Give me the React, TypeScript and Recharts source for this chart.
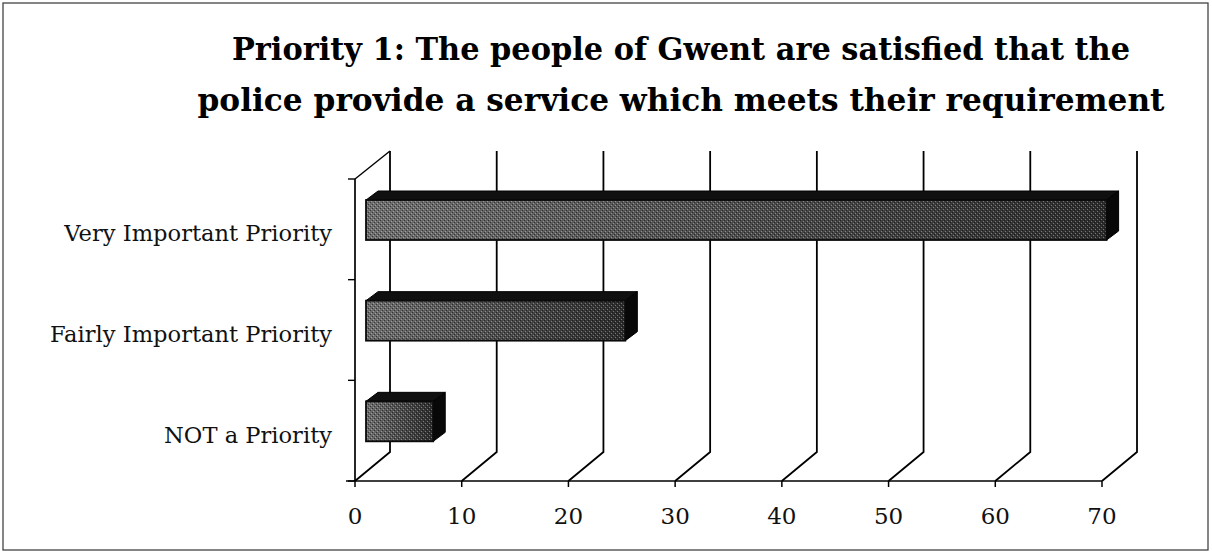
import React from "react";
import { BarChart, Bar, XAxis, YAxis, CartesianGrid } from "recharts";

const titleLines = [
  "Priority 1: The people of Gwent are satisfied that the",
  "police provide a service which meets their requirement",
];
const categories = ["Very Important Priority", "Fairly Important Priority", "NOT a Priority"];
const values = [69.4, 24.3, 6.3];
const xTicks = [0, 10, 20, 30, 40, 50, 60, 70];

const data = categories.map((name, i) => ({ name, value: values[i] }));

const W = 1212;
const H = 554;
const MARGIN = { top: 179, right: 110, bottom: 33, left: 15 };
const Y_AXIS_W = 340;
const X_AXIS_H = 40;
const PLOT_H = H - MARGIN.top - MARGIN.bottom - X_AXIS_H;
const BAND_HALF = PLOT_H / categories.length / 2;
const DEPTH_X = 35;
const DEPTH_Y = 29;
const BAR_OX = 11;
const BAR_OY = 9;
const BAR_DX = 12;
const BAR_DY = 9;
const SERIF = "'DejaVu Serif', serif";

const Bar3D = (p: any) => {
  const { x, y, width, height } = p;
  if (!(width > 0)) return null;
  const fx = x + BAR_OX;
  const fy = y - BAR_OY;
  const w = width;
  const h = height;
  const top = `${fx},${fy} ${fx + BAR_DX},${fy - BAR_DY} ${fx + w + BAR_DX},${fy - BAR_DY} ${fx + w},${fy}`;
  const right = `${fx + w},${fy} ${fx + w + BAR_DX},${fy - BAR_DY} ${fx + w + BAR_DX},${fy + h - BAR_DY} ${fx + w},${fy + h}`;
  return (
    <g>
      <polygon points={top} fill="#101010" stroke="#000" strokeWidth={1} />
      <polygon points={right} fill="#080808" stroke="#000" strokeWidth={1} />
      <rect x={fx} y={fy} width={w} height={h} fill="url(#barGrad)" />
      <rect x={fx} y={fy} width={w} height={h} fill="url(#dither)" />
      <rect x={fx} y={fy} width={w} height={h} fill="none" stroke="#0a0a0a" strokeWidth={1.8} />
    </g>
  );
};

const gridLine = (p: any) => {
  const { x1, y1, y2, index } = p;
  const bx = x1 + DEPTH_X;
  const by = y2 - DEPTH_Y;
  const ty = y1 - DEPTH_Y + 1;
  return (
    <g key={`gl-${index}`}>
      <path d={`M${x1},${y2} L${bx},${by} L${bx},${ty}`} fill="none" stroke="#000" strokeWidth={1.8} />
      {index === 0 ? (
        <>
          <line x1={x1} y1={y1} x2={bx} y2={ty} stroke="#000" strokeWidth={1.5} />
          <line x1={x1 - 9} y1={y2} x2={x1} y2={y2} stroke="#000" strokeWidth={1.5} />
        </>
      ) : null}
    </g>
  );
};

const CategoryTick = (p: any) => {
  const { y, payload, index } = p;
  const ax = MARGIN.left + Y_AXIS_W;
  return (
    <g>
      <line x1={ax - 7} y1={y - BAND_HALF} x2={ax} y2={y - BAND_HALF} stroke="#000" strokeWidth={1.4} />
      {index === categories.length - 1 ? (
        <line x1={ax - 7} y1={y + BAND_HALF} x2={ax} y2={y + BAND_HALF} stroke="#000" strokeWidth={1.4} />
      ) : null}
      <text x={332} y={y + 12} textAnchor="end" fontFamily={SERIF} fontSize={22.6} fill="#111">
        {payload.value}
      </text>
    </g>
  );
};

const ValueTick = (p: any) => {
  const { x, payload } = p;
  return (
    <text x={x} y={524} textAnchor="middle" fontFamily={SERIF} fontSize={23} fill="#111">
      {payload.value}
    </text>
  );
};

export default function App() {
  return (
    <div style={{ position: "absolute", left: 0, top: 0, width: W, height: H, background: "#fff" }}>
      <svg width={0} height={0} style={{ position: "absolute" }}>
        <defs>
          <linearGradient id="barGrad" x1="0" y1="0" x2="1" y2="0">
            <stop offset="0%" stopColor="#6e6e6e" />
            <stop offset="100%" stopColor="#2c2c2c" />
          </linearGradient>
          <pattern id="dither" width="4" height="4" patternUnits="userSpaceOnUse">
            <rect x="0" y="0" width="1" height="1" fill="#000" opacity="0.5" />
            <rect x="2" y="2" width="1" height="1" fill="#000" opacity="0.5" />
            <rect x="1" y="3" width="1" height="1" fill="#fff" opacity="0.35" />
            <rect x="3" y="1" width="1" height="1" fill="#fff" opacity="0.35" />
          </pattern>
        </defs>
      </svg>
      <BarChart
        width={W}
        height={H}
        data={data}
        layout="vertical"
        margin={MARGIN}
        barSize={40}
      >
        <CartesianGrid horizontal={false} vertical={gridLine} />
        <XAxis
          type="number"
          domain={[0, 70]}
          ticks={xTicks}
          interval={0}
          height={X_AXIS_H}
          axisLine={{ stroke: "#000", strokeWidth: 1.5 }}
          tickLine={{ stroke: "#000", strokeWidth: 1.5 }}
          tickSize={6}
          tick={<ValueTick />}
        />
        <YAxis
          type="category"
          dataKey="name"
          width={Y_AXIS_W}
          axisLine={{ stroke: "#000", strokeWidth: 1.7 }}
          tickLine={false}
          tick={<CategoryTick />}
          interval={0}
        />
        <Bar dataKey="value" isAnimationActive={false} shape={<Bar3D />} />
      </BarChart>
      <svg
        width={W}
        height={H}
        style={{ position: "absolute", left: 0, top: 0, pointerEvents: "none" }}
      >
        <rect x={3} y={3} width={1205} height={547} fill="none" stroke="#444" strokeWidth={1.3} />
        <text x={681} y={60} textAnchor="middle" fontFamily={SERIF} fontWeight="bold" fontSize={31} fill="#000" textLength={898} lengthAdjust="spacingAndGlyphs">
          {titleLines[0]}
        </text>
        <text x={681} y={111} textAnchor="middle" fontFamily={SERIF} fontWeight="bold" fontSize={31} fill="#000" textLength={967} lengthAdjust="spacingAndGlyphs">
          {titleLines[1]}
        </text>
      </svg>
    </div>
  );
}
